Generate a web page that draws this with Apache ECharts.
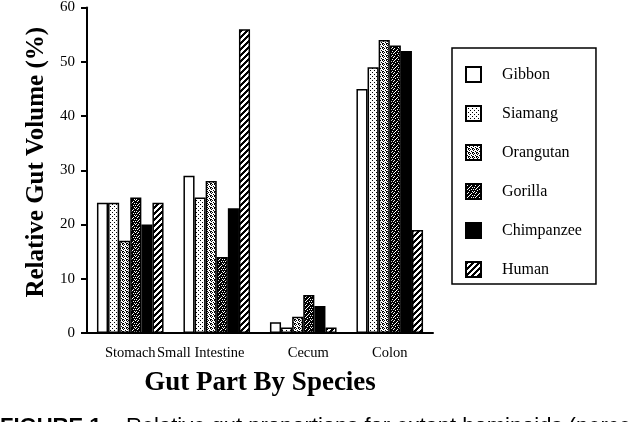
<!DOCTYPE html>
<html>
<head>
<meta charset="utf-8">
<script src="https://cdn.jsdelivr.net/npm/echarts@6/dist/echarts.min.js"></script>
<style>
html,body{margin:0;padding:0;background:#fff;}
#chart{width:628px;height:422px;}
</style>
</head>
<body>
<div id="chart"></div>
<script>
// ---- data ----
const categories = ['Stomach', 'Small Intestine', 'Cecum', 'Colon'];
const species = ['Gibbon', 'Siamang', 'Orangutan', 'Gorilla', 'Chimpanzee', 'Human'];
const gibbon     = [24, 29, 2, 45];
const siamang    = [24, 25, 1, 49];
const orangutan  = [17, 28, 3, 54];
const gorilla    = [25, 14, 7, 53];
const chimpanzee = [20, 23, 5, 52];
const human      = [24, 56, 1, 19];
const yTicks = [0, 10, 20, 30, 40, 50, 60];

// ---- textures (fill patterns) ----
function tile(rows) {
  const h = rows.length, w = rows[0].length;
  const c = document.createElement('canvas');
  c.width = w; c.height = h;
  const ctx = c.getContext('2d');
  ctx.fillStyle = '#fff'; ctx.fillRect(0, 0, w, h);
  ctx.fillStyle = '#000';
  for (let y = 0; y < h; y++) for (let x = 0; x < w; x++) if (rows[y][x] === '1') ctx.fillRect(x, y, 1, 1);
  return { image: c, repeat: 'repeat' };
}
const fills = {
  Gibbon: '#ffffff',
  Siamang: tile(['1000', '0000', '0010', '0000']),
  Orangutan: tile(['1010', '0001', '0100', '0011']),
  Gorilla: tile(['11011110', '10111011', '11110111', '01101101', '11011111', '10111010', '11101111', '01111101']),
  Chimpanzee: '#000000',
  Human: tile(['111000', '110001', '100011', '000111', '001110', '011100'])
};
const seriesData = { Gibbon: gibbon, Siamang: siamang, Orangutan: orangutan, Gorilla: gorilla, Chimpanzee: chimpanzee, Human: human };

const serif = 'Liberation Serif';
const chart = echarts.init(document.getElementById('chart'));
chart.setOption({
  animation: false,
  backgroundColor: '#fff',
  grid: { left: 87, top: 5, width: 346, bottom: 89 },
  legend: {
    orient: 'vertical', left: 452, top: 48,
    data: species,
    icon: 'rect',
    itemWidth: 15, itemHeight: 15, itemGap: 22,
    borderColor: '#000', borderWidth: 1.5, padding: [18, 14, 6, 13],
    textStyle: { fontFamily: serif, fontSize: 16, color: '#000', padding: [0, 0, 0, 16] }
  },
  xAxis: {
    type: 'category',
    data: [
      { value: categories[0] },
      { value: categories[1], textStyle: { padding: [0, 32, 0, 0] } },
      { value: categories[2], textStyle: { padding: [0, 0, 0, 10] } },
      { value: categories[3] }
    ],
    axisLine: { lineStyle: { color: '#000', width: 2 } },
    axisTick: { show: false },
    axisLabel: { fontFamily: serif, fontSize: 14.5, color: '#000', margin: 13, interval: 0 },
    name: 'Gut Part By Species', nameLocation: 'middle', nameGap: 37,
    nameTextStyle: { fontFamily: serif, fontSize: 27, fontWeight: 'bold', color: '#000' }
  },
  yAxis: {
    type: 'value', min: yTicks[0], max: yTicks[yTicks.length - 1], interval: 10,
    axisLine: { show: true, lineStyle: { color: '#000', width: 2 } },
    axisTick: { show: true, length: 6, lineStyle: { color: '#000', width: 2 } },
    axisLabel: { fontFamily: serif, fontSize: 15, color: '#000', margin: 12 },
    splitLine: { show: false },
    name: 'Relative Gut Volume (%)', nameLocation: 'middle', nameGap: 31,
    nameTextStyle: { fontFamily: serif, fontSize: 25, fontWeight: 'bold', color: '#000', padding: [0, 0, 0, 16] }
  },
  series: species.map(s => ({
    name: s, type: 'bar', data: seriesData[s],
    barGap: '0%', barCategoryGap: '23%',
    itemStyle: { color: fills[s], borderColor: '#000', borderWidth: 1.5 }
  })),
  graphic: [{
    type: 'text', left: 0, top: 416,
    style: {
      text: '{b|FIGURE 1.}   Relative gut proportions for extant hominoids (percentage of total gut volume)',
      font: '22px "Liberation Sans"', fill: '#000',
      rich: { b: { fontFamily: 'Liberation Sans', fontWeight: 'bold', fontSize: 22 } }
    }
  }]
});
</script>
</body>
</html>
